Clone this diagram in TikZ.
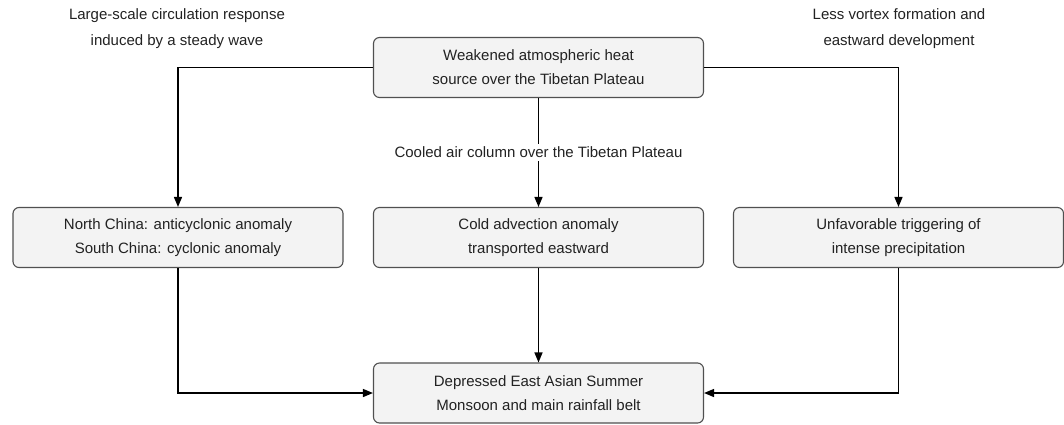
\documentclass[tikz,border=0pt]{standalone}
\usepackage{fontspec}
\setmainfont{Liberation Sans}
\usetikzlibrary{arrows.meta}
\definecolor{boxfill}{HTML}{F3F3F3}
\definecolor{boxline}{HTML}{505050}
\definecolor{txt}{HTML}{222222}
\tikzset{
  flowbox/.style={draw=boxline, line width=1.1pt, fill=boxfill, rounded corners=6pt,
    minimum width=330pt, minimum height=60pt, align=center, text=txt,
    font=\fontsize{15}{24}\selectfont, inner sep=0pt},
  lbl/.style={align=center, text=txt, font=\fontsize{15}{26}\selectfont, inner sep=1pt},
  arr/.style={draw=black, line width=1.4pt, -{Triangle[length=10pt,width=8pt]}}
}
\begin{document}
\begin{tikzpicture}[x=1pt,y=-1pt]
\useasboundingbox (0,0) rectangle (1064,424);
\node[flowbox] (top) at (538.5,67.5) {Weakened atmospheric heat\\source over the Tibetan Plateau};
\node[flowbox] (left) at (178,237.5) {North China: anticyclonic anomaly\\South China: cyclonic anomaly};
\node[flowbox] (mid) at (538.5,237.5) {Cold advection anomaly\\transported eastward};
\node[flowbox] (right) at (898.5,237.5) {Unfavorable triggering of\\intense precipitation};
\node[flowbox] (bot) at (538.5,393) {Depressed East Asian Summer\\Monsoon and main rainfall belt};
\node[lbl] (lab1) at (177,29) {Large-scale circulation response\\induced by a steady wave};
\node[lbl] (lab2) at (899,29) {Less vortex formation and\\eastward development};
\draw[arr] (top.west) -| (left.north);
\draw[arr] (top.east) -| (right.north);
\draw[arr] (top.south) -- node[midway, fill=white, lbl, inner sep=3pt] (lab3) {Cooled air column over the Tibetan Plateau} (mid.north);
\draw[arr] (left.south) |- (bot.west);
\draw[arr] (right.south) |- (bot.east);
\draw[arr] (mid.south) -- (bot.north);
\end{tikzpicture}
\end{document}
